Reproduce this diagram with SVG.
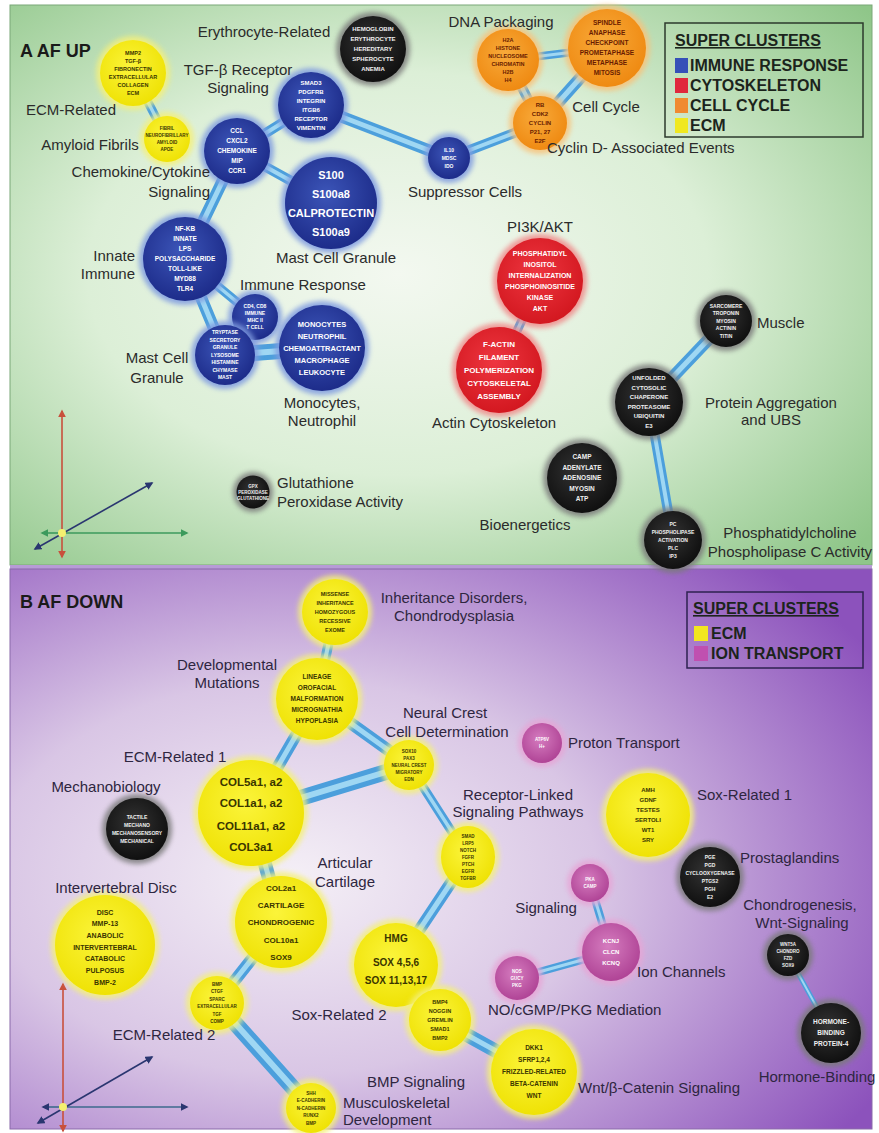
<svg xmlns="http://www.w3.org/2000/svg" width="879" height="1133" viewBox="0 0 879 1133">
<style>
.lb{font-family:"Liberation Sans",Arial,sans-serif;font-size:15px;fill:#2b2b2b}
.lbB{fill:#2e2640}
.mid{text-anchor:middle}.end{text-anchor:end}
.ttl{font-family:"Liberation Sans",Arial,sans-serif;font-size:18px;font-weight:bold;fill:#1a1a1a}
.lg{font-family:"Liberation Sans",Arial,sans-serif;font-size:16px;font-weight:bold;fill:#1c241c}
.lgt{text-decoration:underline}
.nt{font-family:"Liberation Sans",Arial,sans-serif;font-weight:bold;text-anchor:middle}
.halo{filter:url(#blur);opacity:.85}
.blu .halo{fill:#7f9be0}.blu .body{fill:url(#gBlu)}.blu text{fill:#ffffff}
.yel .halo{fill:#f4f07a}.yel .body{fill:url(#gYel)}.yel text{fill:#3a3500}
.org .halo{fill:#f8c27a}.org .body{fill:url(#gOrg)}.org text{fill:#6a1c00}
.red .halo{fill:#f08a8a}.red .body{fill:url(#gRed)}.red text{fill:#ffffff}
.blk .halo{fill:#7a7a7a}.blk .body{fill:url(#gBlk)}.blk text{fill:#f0f0f0}
.pnk .halo{fill:#e6a6d6}.pnk .body{fill:url(#gPnk)}.pnk text{fill:#ffffff}
.tube{stroke:#4c9fdc;stroke-linecap:round;fill:none}
.hi{stroke:#a9ddf5;stroke-linecap:round;fill:none;opacity:.9}
.ax{stroke-width:1.6;fill:none}
</style>
<defs>
<filter id="blur" x="-40%" y="-40%" width="180%" height="180%"><feGaussianBlur stdDeviation="2.5"/></filter>
<radialGradient id="bgA" cx="45%" cy="48%" r="72%"><stop offset="0" stop-color="#f3f8f0"/><stop offset="0.5" stop-color="#dcefd7"/><stop offset="1" stop-color="#8fc689"/></radialGradient>
<radialGradient id="bgB" cx="33%" cy="55%" r="78%"><stop offset="0" stop-color="#f4eff6"/><stop offset="0.45" stop-color="#d9c6e5"/><stop offset="1" stop-color="#8c52bc"/></radialGradient>
<radialGradient id="gBlu" cx="45%" cy="40%" r="60%"><stop offset="0" stop-color="#3c55b8"/><stop offset="1" stop-color="#1d2c8a"/></radialGradient>
<radialGradient id="gYel" cx="45%" cy="40%" r="60%"><stop offset="0" stop-color="#fbf43a"/><stop offset="1" stop-color="#efe205"/></radialGradient>
<radialGradient id="gOrg" cx="45%" cy="40%" r="60%"><stop offset="0" stop-color="#f8aa3a"/><stop offset="1" stop-color="#ef8a12"/></radialGradient>
<radialGradient id="gRed" cx="45%" cy="40%" r="60%"><stop offset="0" stop-color="#ee3640"/><stop offset="1" stop-color="#d31820"/></radialGradient>
<radialGradient id="gBlk" cx="45%" cy="40%" r="60%"><stop offset="0" stop-color="#333333"/><stop offset="1" stop-color="#101010"/></radialGradient>
<radialGradient id="gPnk" cx="45%" cy="40%" r="60%"><stop offset="0" stop-color="#d57cbf"/><stop offset="1" stop-color="#b04496"/></radialGradient>
<marker id="mR" viewBox="0 0 10 10" refX="8" refY="5" markerWidth="5" markerHeight="5" orient="auto-start-reverse"><path d="M0,0 L10,5 L0,10 z" fill="#c8503c"/></marker>
<marker id="mG" viewBox="0 0 10 10" refX="8" refY="5" markerWidth="5" markerHeight="5" orient="auto-start-reverse"><path d="M0,0 L10,5 L0,10 z" fill="#3c9a5c"/></marker>
<marker id="mK" viewBox="0 0 10 10" refX="8" refY="5" markerWidth="5" markerHeight="5" orient="auto-start-reverse"><path d="M0,0 L10,5 L0,10 z" fill="#2a3670"/></marker>
</defs>

<rect width="879" height="1133" fill="#ffffff"/>
<!-- panels -->
<rect x="10" y="5" width="862" height="560" fill="url(#bgA)" stroke="#7aa878" stroke-width="1"/>
<rect x="10" y="565" width="862" height="4" fill="#b79bd6"/>
<rect x="10" y="569" width="862" height="560" fill="url(#bgB)" stroke="#8a6aaa" stroke-width="1"/>

<text class="ttl" x="20" y="57">A  AF UP</text>
<text class="ttl" x="20" y="608">B  AF DOWN</text>

<!-- legend A -->
<g id="legendA">
<rect x="665" y="23" width="198" height="114" fill="none" stroke="#2c3a2c" stroke-width="1.5"/>
<text class="lg lgt" x="675" y="46">SUPER CLUSTERS</text>
<rect x="675" y="58" width="13" height="15" fill="#3550b8"/>
<text class="lg" x="690" y="71">IMMUNE RESPONSE</text>
<rect x="675" y="78" width="13" height="15" fill="#e0283c"/>
<text class="lg" x="690" y="91">CYTOSKELETON</text>
<rect x="675" y="98" width="13" height="15" fill="#f08a30"/>
<text class="lg" x="690" y="111">CELL CYCLE</text>
<rect x="675" y="118" width="13" height="15" fill="#f0e820"/>
<text class="lg" x="690" y="131">ECM</text>
</g>
<!-- legend B -->
<g id="legendB">
<rect x="687" y="592" width="176" height="76" fill="none" stroke="#2e2250" stroke-width="1.5"/>
<text class="lg lgt" x="693" y="614">SUPER CLUSTERS</text>
<rect x="694" y="626" width="14" height="15" fill="#f2e620"/>
<text class="lg" x="711" y="639">ECM</text>
<rect x="694" y="646" width="14" height="15" fill="#c050b0"/>
<text class="lg" x="711" y="659">ION TRANSPORT</text>
</g>

<!-- axes -->
<g id="axesA">
<line class="ax" x1="62" y1="557" x2="62" y2="411" stroke="#c8503c" marker-start="url(#mR)" marker-end="url(#mR)"/>
<line class="ax" x1="62" y1="533" x2="187" y2="533" stroke="#3c9a5c" marker-end="url(#mG)"/>
<line class="ax" x1="62" y1="533" x2="42" y2="533" stroke="#3c9a5c" marker-end="url(#mG)"/>
<line class="ax" x1="35" y1="549" x2="152" y2="483" stroke="#2a3670" marker-start="url(#mK)" marker-end="url(#mK)"/>
<circle cx="62" cy="533" r="4" fill="#f4f070"/>
</g>
<g id="axesB">
<line class="ax" x1="63" y1="1131" x2="63" y2="984" stroke="#c8503c" marker-start="url(#mR)" marker-end="url(#mR)"/>
<line class="ax" x1="63" y1="1107" x2="187" y2="1107" stroke="#3c6a8c" marker-end="url(#mK)"/>
<line class="ax" x1="63" y1="1107" x2="43" y2="1107" stroke="#3c6a8c" marker-end="url(#mK)"/>
<line class="ax" x1="38" y1="1123" x2="152" y2="1057" stroke="#2a3670" marker-start="url(#mK)" marker-end="url(#mK)"/>
<circle cx="63" cy="1107" r="4" fill="#f4f070"/>
</g>

<!-- connectors -->
<g id="connectors">
<line class="tube" x1="133" y1="73" x2="167" y2="139" stroke-width="9"/><line class="hi" x1="133" y1="73" x2="167" y2="139" stroke-width="3.5"/>
<line class="tube" x1="237" y1="151" x2="311" y2="105" stroke-width="10"/><line class="hi" x1="237" y1="151" x2="311" y2="105" stroke-width="4"/>
<line class="tube" x1="237" y1="151" x2="331" y2="203" stroke-width="10"/><line class="hi" x1="237" y1="151" x2="331" y2="203" stroke-width="4"/>
<line class="tube" x1="237" y1="151" x2="185" y2="259" stroke-width="12"/><line class="hi" x1="237" y1="151" x2="185" y2="259" stroke-width="5"/>
<line class="tube" x1="311" y1="105" x2="449" y2="158" stroke-width="12"/><line class="hi" x1="311" y1="105" x2="449" y2="158" stroke-width="5"/>
<line class="tube" x1="449" y1="158" x2="540" y2="123" stroke-width="10"/><line class="hi" x1="449" y1="158" x2="540" y2="123" stroke-width="4"/>
<line class="tube" x1="540" y1="123" x2="508" y2="60" stroke-width="10"/><line class="hi" x1="540" y1="123" x2="508" y2="60" stroke-width="4"/>
<line class="tube" x1="540" y1="123" x2="607" y2="48" stroke-width="12"/><line class="hi" x1="540" y1="123" x2="607" y2="48" stroke-width="5"/>
<line class="tube" x1="508" y1="60" x2="607" y2="48" stroke-width="8"/><line class="hi" x1="508" y1="60" x2="607" y2="48" stroke-width="3"/>
<line class="tube" x1="185" y1="259" x2="255" y2="317" stroke-width="9"/><line class="hi" x1="185" y1="259" x2="255" y2="317" stroke-width="3.5"/>
<line class="tube" x1="185" y1="259" x2="225" y2="355" stroke-width="12"/><line class="hi" x1="185" y1="259" x2="225" y2="355" stroke-width="5"/>
<line class="tube" x1="225" y1="355" x2="322" y2="348" stroke-width="16"/><line class="hi" x1="225" y1="355" x2="322" y2="348" stroke-width="6"/>
<line class="tube" x1="255" y1="317" x2="225" y2="355" stroke-width="8"/><line class="hi" x1="255" y1="317" x2="225" y2="355" stroke-width="3"/>
<line class="tube" x1="540" y1="281" x2="499" y2="370" stroke-width="9"/><line class="hi" x1="540" y1="281" x2="499" y2="370" stroke-width="3.5"/>
<line class="tube" x1="649" y1="402" x2="726" y2="321" stroke-width="12"/><line class="hi" x1="649" y1="402" x2="726" y2="321" stroke-width="5"/>
<line class="tube" x1="649" y1="402" x2="673" y2="540" stroke-width="10"/><line class="hi" x1="649" y1="402" x2="673" y2="540" stroke-width="4"/>

<line class="tube" x1="335" y1="612" x2="317" y2="699" stroke-width="10"/><line class="hi" x1="335" y1="612" x2="317" y2="699" stroke-width="4"/>
<line class="tube" x1="317" y1="699" x2="409" y2="765" stroke-width="12"/><line class="hi" x1="317" y1="699" x2="409" y2="765" stroke-width="5"/>
<line class="tube" x1="317" y1="699" x2="251" y2="813" stroke-width="12"/><line class="hi" x1="317" y1="699" x2="251" y2="813" stroke-width="5"/>
<line class="tube" x1="251" y1="813" x2="409" y2="765" stroke-width="16"/><line class="hi" x1="251" y1="813" x2="409" y2="765" stroke-width="6"/>
<line class="tube" x1="409" y1="765" x2="468" y2="857" stroke-width="9"/><line class="hi" x1="409" y1="765" x2="468" y2="857" stroke-width="3.5"/>
<line class="tube" x1="468" y1="857" x2="396" y2="965" stroke-width="12"/><line class="hi" x1="468" y1="857" x2="396" y2="965" stroke-width="5"/>
<line class="tube" x1="251" y1="813" x2="281" y2="922" stroke-width="14"/><line class="hi" x1="251" y1="813" x2="281" y2="922" stroke-width="5"/>
<line class="tube" x1="281" y1="922" x2="217" y2="1003" stroke-width="12"/><line class="hi" x1="281" y1="922" x2="217" y2="1003" stroke-width="5"/>
<line class="tube" x1="217" y1="1003" x2="311" y2="1108" stroke-width="16"/><line class="hi" x1="217" y1="1003" x2="311" y2="1108" stroke-width="6"/>
<line class="tube" x1="396" y1="965" x2="440" y2="1020" stroke-width="5"/><line class="hi" x1="396" y1="965" x2="440" y2="1020" stroke-width="2"/>
<line class="tube" x1="440" y1="1020" x2="534" y2="1072" stroke-width="14"/><line class="hi" x1="440" y1="1020" x2="534" y2="1072" stroke-width="5"/>
<line class="tube" x1="590" y1="883" x2="611" y2="952" stroke-width="8"/><line class="hi" x1="590" y1="883" x2="611" y2="952" stroke-width="3"/>
<line class="tube" x1="517" y1="978" x2="611" y2="952" stroke-width="8"/><line class="hi" x1="517" y1="978" x2="611" y2="952" stroke-width="3"/>
<line class="tube" x1="788" y1="955" x2="831" y2="1033" stroke-width="5"/><line class="hi" x1="788" y1="955" x2="831" y2="1033" stroke-width="2"/>
</g>

<!-- ===== Panel A nodes ===== -->
<g id="a-ecm" class="node yel"><circle class="halo" cx="133" cy="73" r="37"/><circle class="body" cx="133" cy="73" r="33"/>
<text class="nt" font-size="5.5" x="133" y="54.9"><tspan x="133">MMP2</tspan><tspan x="133" dy="8">TGF-β</tspan><tspan x="133" dy="8">FIBRONECTIN</tspan><tspan x="133" dy="8">EXTRACELLULAR</tspan><tspan x="133" dy="8">COLLAGEN</tspan><tspan x="133" dy="8">ECM</tspan></text></g>
<g id="a-amyloid" class="node yel"><circle class="halo" cx="167" cy="139" r="27"/><circle class="body" cx="167" cy="139" r="23"/>
<text class="nt" font-size="4.5" x="167" y="130.3"><tspan x="167">FIBRIL</tspan><tspan x="167" dy="7">NEUROFIBRILLARY</tspan><tspan x="167" dy="7">AMYLOID</tspan><tspan x="167" dy="7">APOE</tspan></text></g>
<g id="a-chemokine" class="node blu"><circle class="halo" cx="237" cy="151" r="37"/><circle class="body" cx="237" cy="151" r="33"/>
<text class="nt" font-size="6.5" x="237" y="133.3"><tspan x="237">CCL</tspan><tspan x="237" dy="10">CXCL2</tspan><tspan x="237" dy="10">CHEMOKINE</tspan><tspan x="237" dy="10">MIP</tspan><tspan x="237" dy="10">CCR1</tspan></text></g>
<g id="a-tgfb" class="node blu"><circle class="halo" cx="311" cy="105" r="37"/><circle class="body" cx="311" cy="105" r="33"/>
<text class="nt" font-size="6" x="311" y="84.6"><tspan x="311">SMAD3</tspan><tspan x="311" dy="9">PDGFRB</tspan><tspan x="311" dy="9">INTEGRIN</tspan><tspan x="311" dy="9">ITGB6</tspan><tspan x="311" dy="9">RECEPTOR</tspan><tspan x="311" dy="9">VIMENTIN</tspan></text></g>
<g id="a-erythro" class="node blk"><circle class="halo" cx="373" cy="49" r="37"/><circle class="body" cx="373" cy="49" r="33"/>
<text class="nt" font-size="6" x="373" y="31.1"><tspan x="373">HEMOGLOBIN</tspan><tspan x="373" dy="10">ERYTHROCYTE</tspan><tspan x="373" dy="10">HEREDITARY</tspan><tspan x="373" dy="10">SPHEROCYTE</tspan><tspan x="373" dy="10">ANEMIA</tspan></text></g>
<g id="a-s100" class="node blu"><circle class="halo" cx="331" cy="203" r="50"/><circle class="body" cx="331" cy="203" r="46"/>
<text class="nt" font-size="11" x="331" y="179"><tspan x="331">S100</tspan><tspan x="331" dy="18.5">S100a8</tspan><tspan x="331" dy="19.5">CALPROTECTIN</tspan><tspan x="331" dy="19">S100a9</tspan></text></g>
<g id="a-suppressor" class="node blu"><circle class="halo" cx="449" cy="158" r="25"/><circle class="body" cx="449" cy="158" r="21"/>
<text class="nt" font-size="5" x="449" y="151.7"><tspan x="449">IL10</tspan><tspan x="449" dy="8">MDSC</tspan><tspan x="449" dy="8">IDO</tspan></text></g>
<g id="a-dna" class="node org"><circle class="halo" cx="508" cy="60" r="35"/><circle class="body" cx="508" cy="60" r="31"/>
<text class="nt" font-size="5.5" x="508" y="41.9"><tspan x="508">H2A</tspan><tspan x="508" dy="8">HISTONE</tspan><tspan x="508" dy="8">NUCLEOSOME</tspan><tspan x="508" dy="8">CHROMATIN</tspan><tspan x="508" dy="8">H2B</tspan><tspan x="508" dy="8">H4</tspan></text></g>
<g id="a-cellcycle" class="node org"><circle class="halo" cx="607" cy="48" r="43"/><circle class="body" cx="607" cy="48" r="39"/>
<text class="nt" font-size="6.5" x="607" y="25.3"><tspan x="607">SPINDLE</tspan><tspan x="607" dy="10">ANAPHASE</tspan><tspan x="607" dy="10">CHECKPOINT</tspan><tspan x="607" dy="10">PROMETAPHASE</tspan><tspan x="607" dy="10">METAPHASE</tspan><tspan x="607" dy="10">MITOSIS</tspan></text></g>
<g id="a-cyclind" class="node org"><circle class="halo" cx="540" cy="123" r="31"/><circle class="body" cx="540" cy="123" r="27"/>
<text class="nt" font-size="6" x="540" y="107.1"><tspan x="540">RB</tspan><tspan x="540" dy="9">CDK2</tspan><tspan x="540" dy="9">CYCLIN</tspan><tspan x="540" dy="9">P21, 27</tspan><tspan x="540" dy="9">E2F</tspan></text></g>
<g id="a-innate" class="node blu"><circle class="halo" cx="185" cy="259" r="46"/><circle class="body" cx="185" cy="259" r="42"/>
<text class="nt" font-size="6.5" x="185" y="231.3"><tspan x="185">NF-KB</tspan><tspan x="185" dy="10">INNATE</tspan><tspan x="185" dy="10">LPS</tspan><tspan x="185" dy="10">POLYSACCHARIDE</tspan><tspan x="185" dy="10">TOLL-LIKE</tspan><tspan x="185" dy="10">MYD88</tspan><tspan x="185" dy="10">TLR4</tspan></text></g>
<g id="a-immresp" class="node blu"><circle class="halo" cx="255" cy="317" r="27"/><circle class="body" cx="255" cy="317" r="23"/>
<text class="nt" font-size="5" x="255" y="308.3"><tspan x="255">CD4, CD8</tspan><tspan x="255" dy="7">IMMUNE</tspan><tspan x="255" dy="7">MHC II</tspan><tspan x="255" dy="7">T CELL</tspan></text></g>
<g id="a-mastcell2" class="node blu"><circle class="halo" cx="225" cy="355" r="34"/><circle class="body" cx="225" cy="355" r="30"/>
<text class="nt" font-size="5" x="225" y="334.3"><tspan x="225">TRYPTASE</tspan><tspan x="225" dy="7.5">SECRETORY</tspan><tspan x="225" dy="7.5">GRANULE</tspan><tspan x="225" dy="7.5">LYSOSOME</tspan><tspan x="225" dy="7.5">HISTAMINE</tspan><tspan x="225" dy="7.5">CHYMASE</tspan><tspan x="225" dy="7.5">MAST</tspan></text></g>
<g id="a-monocytes" class="node blu"><circle class="halo" cx="322" cy="348" r="47"/><circle class="body" cx="322" cy="348" r="43"/>
<text class="nt" font-size="7.5" x="322" y="326.6"><tspan x="322">MONOCYTES</tspan><tspan x="322" dy="12">NEUTROPHIL</tspan><tspan x="322" dy="12">CHEMOATTRACTANT</tspan><tspan x="322" dy="12">MACROPHAGE</tspan><tspan x="322" dy="12">LEUKOCYTE</tspan></text></g>
<g id="a-pi3k" class="node red"><circle class="halo" cx="540" cy="281" r="47"/><circle class="body" cx="540" cy="281" r="43"/>
<text class="nt" font-size="7" x="540" y="256"><tspan x="540">PHOSPHATIDYL</tspan><tspan x="540" dy="11">INOSITOL</tspan><tspan x="540" dy="11">INTERNALIZATION</tspan><tspan x="540" dy="11">PHOSPHOINOSITIDE</tspan><tspan x="540" dy="11">KINASE</tspan><tspan x="540" dy="11">AKT</tspan></text></g>
<g id="a-actin" class="node red"><circle class="halo" cx="499" cy="370" r="47"/><circle class="body" cx="499" cy="370" r="43"/>
<text class="nt" font-size="8" x="499" y="346.8"><tspan x="499">F-ACTIN</tspan><tspan x="499" dy="13">FILAMENT</tspan><tspan x="499" dy="13">POLYMERIZATION</tspan><tspan x="499" dy="13">CYTOSKELETAL</tspan><tspan x="499" dy="13">ASSEMBLY</tspan></text></g>
<g id="a-glutathione" class="node blk"><circle class="halo" cx="253" cy="492" r="20"/><circle class="body" cx="253" cy="492" r="16.5"/>
<text class="nt" font-size="4.5" x="253" y="487.6"><tspan x="253">GPX</tspan><tspan x="253" dy="6">PEROXIDASE</tspan><tspan x="253" dy="6">GLUTATHIONE</tspan></text></g>
<g id="a-muscle" class="node blk"><circle class="halo" cx="726" cy="321" r="30"/><circle class="body" cx="726" cy="321" r="26"/>
<text class="nt" font-size="5" x="726" y="307.8"><tspan x="726">SARCOMERE</tspan><tspan x="726" dy="7.5">TROPONIN</tspan><tspan x="726" dy="7.5">MYOSIN</tspan><tspan x="726" dy="7.5">ACTININ</tspan><tspan x="726" dy="7.5">TITIN</tspan></text></g>
<g id="a-protagg" class="node blk"><circle class="halo" cx="649" cy="402" r="38"/><circle class="body" cx="649" cy="402" r="34"/>
<text class="nt" font-size="6" x="649" y="380.4"><tspan x="649">UNFOLDED</tspan><tspan x="649" dy="9.5">CYTOSOLIC</tspan><tspan x="649" dy="9.5">CHAPERONE</tspan><tspan x="649" dy="9.5">PROTEASOME</tspan><tspan x="649" dy="9.5">UBIQUITIN</tspan><tspan x="649" dy="9.5">E3</tspan></text></g>
<g id="a-bioenergetics" class="node blk"><circle class="halo" cx="582" cy="478" r="39"/><circle class="body" cx="582" cy="478" r="35"/>
<text class="nt" font-size="6.5" x="582" y="459.3"><tspan x="582">CAMP</tspan><tspan x="582" dy="10.5">ADENYLATE</tspan><tspan x="582" dy="10.5">ADENOSINE</tspan><tspan x="582" dy="10.5">MYOSIN</tspan><tspan x="582" dy="10.5">ATP</tspan></text></g>
<g id="a-phospho" class="node blk"><circle class="halo" cx="673" cy="540" r="33"/><circle class="body" cx="673" cy="540" r="29"/>
<text class="nt" font-size="5" x="673" y="525.8"><tspan x="673">PC</tspan><tspan x="673" dy="8">PHOSPHOLIPASE</tspan><tspan x="673" dy="8">ACTIVATION</tspan><tspan x="673" dy="8">PLC</tspan><tspan x="673" dy="8">IP3</tspan></text></g>

<!-- Panel A labels -->
<g id="labelsA">
<text class="lb mid" x="264" y="37">Erythrocyte-Related</text>
<text class="lb mid" x="238" y="75">TGF-β Receptor</text>
<text class="lb mid" x="238" y="93">Signaling</text>
<text class="lb mid" x="71" y="115">ECM-Related</text>
<text class="lb mid" x="90" y="150">Amyloid Fibrils</text>
<text class="lb end" x="210" y="177">Chemokine/Cytokine</text>
<text class="lb end" x="210" y="197">Signaling</text>
<text class="lb mid" x="501" y="27">DNA Packaging</text>
<text class="lb mid" x="606" y="112">Cell Cycle</text>
<text class="lb" x="547" y="153">Cyclin D- Associated Events</text>
<text class="lb mid" x="465" y="197">Suppressor Cells</text>
<text class="lb mid" x="336" y="263">Mast Cell Granule</text>
<text class="lb mid" x="303" y="290">Immune Response</text>
<text class="lb end" x="135" y="261">Innate</text>
<text class="lb end" x="135" y="279">Immune</text>
<text class="lb mid" x="157" y="363">Mast Cell</text>
<text class="lb mid" x="157" y="383">Granule</text>
<text class="lb mid" x="322" y="408">Monocytes,</text>
<text class="lb mid" x="322" y="426">Neutrophil</text>
<text class="lb mid" x="540" y="232">PI3K/AKT</text>
<text class="lb mid" x="494" y="428">Actin Cytoskeleton</text>
<text class="lb" x="277" y="488">Glutathione</text>
<text class="lb" x="277" y="507">Peroxidase Activity</text>
<text class="lb" x="757" y="328">Muscle</text>
<text class="lb mid" x="771" y="408">Protein Aggregation</text>
<text class="lb mid" x="771" y="425">and UBS</text>
<text class="lb mid" x="525" y="530">Bioenergetics</text>
<text class="lb mid" x="790" y="538">Phosphatidylcholine</text>
<text class="lb mid" x="790" y="557">Phospholipase C Activity</text>
</g>

<!-- ===== Panel B nodes ===== -->
<g id="b-inherit" class="node yel"><circle class="halo" cx="335" cy="612" r="37"/><circle class="body" cx="335" cy="612" r="33"/>
<text class="nt" font-size="5.5" x="335" y="595.9"><tspan x="335">MISSENSE</tspan><tspan x="335" dy="9">INHERITANCE</tspan><tspan x="335" dy="9">HOMOZYGOUS</tspan><tspan x="335" dy="9">RECESSIVE</tspan><tspan x="335" dy="9">EXOME</tspan></text></g>
<g id="b-develop" class="node yel"><circle class="halo" cx="317" cy="699" r="45"/><circle class="body" cx="317" cy="699" r="41"/>
<text class="nt" font-size="6.5" x="317" y="679.3"><tspan x="317">LINEAGE</tspan><tspan x="317" dy="11">OROFACIAL</tspan><tspan x="317" dy="11">MALFORMATION</tspan><tspan x="317" dy="11">MICROGNATHIA</tspan><tspan x="317" dy="11">HYPOPLASIA</tspan></text></g>
<g id="b-neural" class="node yel"><circle class="halo" cx="409" cy="765" r="29"/><circle class="body" cx="409" cy="765" r="25"/>
<text class="nt" font-size="4.5" x="409" y="752.6"><tspan x="409">SOX10</tspan><tspan x="409" dy="7">PAX3</tspan><tspan x="409" dy="7">NEURAL CREST</tspan><tspan x="409" dy="7">MIGRATORY</tspan><tspan x="409" dy="7">EDN</tspan></text></g>
<g id="b-ecm1" class="node yel"><circle class="halo" cx="251" cy="813" r="57"/><circle class="body" cx="251" cy="813" r="53"/>
<text class="nt" font-size="11.5" x="251" y="786"><tspan x="251">COL5a1, a2</tspan><tspan x="251" dy="21">COL1a1, a2</tspan><tspan x="251" dy="23">COL11a1, a2</tspan><tspan x="251" dy="21">COL3a1</tspan></text></g>
<g id="b-receptor" class="node yel"><ellipse class="halo" cx="468" cy="857" rx="31" ry="35"/><ellipse class="body" cx="468" cy="857" rx="27" ry="31"/>
<text class="nt" font-size="4.5" x="468" y="837.6"><tspan x="468">SMAD</tspan><tspan x="468" dy="7">LRP5</tspan><tspan x="468" dy="7">NOTCH</tspan><tspan x="468" dy="7">FGFR</tspan><tspan x="468" dy="7">PTCH</tspan><tspan x="468" dy="7">EGFR</tspan><tspan x="468" dy="7">TGFBR</tspan></text></g>
<g id="b-articular" class="node yel"><circle class="halo" cx="281" cy="922" r="50"/><circle class="body" cx="281" cy="922" r="46"/>
<text class="nt" font-size="8" x="281" y="890.8"><tspan x="281">COL2a1</tspan><tspan x="281" dy="17.3">CARTILAGE</tspan><tspan x="281" dy="17.3">CHONDROGENIC</tspan><tspan x="281" dy="17.3">COL10a1</tspan><tspan x="281" dy="17.3">SOX9</tspan></text></g>
<g id="b-hmg" class="node yel"><circle class="halo" cx="396" cy="965" r="46"/><circle class="body" cx="396" cy="965" r="42"/>
<text class="nt" font-size="10" x="396" y="942"><tspan x="396">HMG</tspan><tspan x="396" dy="24">SOX 4,5,6</tspan><tspan x="396" dy="18">SOX 11,13,17</tspan></text></g>
<g id="b-bmp" class="node yel"><circle class="halo" cx="440" cy="1020" r="35"/><circle class="body" cx="440" cy="1020" r="31"/>
<text class="nt" font-size="5.5" x="440" y="1003.9"><tspan x="440">BMP4</tspan><tspan x="440" dy="9">NOGGIN</tspan><tspan x="440" dy="9">GREMLIN</tspan><tspan x="440" dy="9">SMAD1</tspan><tspan x="440" dy="9">BMP2</tspan></text></g>
<g id="b-wnt" class="node yel"><circle class="halo" cx="534" cy="1072" r="47"/><circle class="body" cx="534" cy="1072" r="43"/>
<text class="nt" font-size="6.5" x="534" y="1050.3"><tspan x="534">DKK1</tspan><tspan x="534" dy="12">SFRP1,2,4</tspan><tspan x="534" dy="12">FRIZZLED-RELATED</tspan><tspan x="534" dy="12">BETA-CATENIN</tspan><tspan x="534" dy="12">WNT</tspan></text></g>
<g id="b-signaling" class="node pnk"><circle class="halo" cx="590" cy="883" r="23"/><circle class="body" cx="590" cy="883" r="19"/>
<text class="nt" font-size="4.5" x="590" y="881.1"><tspan x="590">PKA</tspan><tspan x="590" dy="7">CAMP</tspan></text></g>
<g id="b-ion" class="node pnk"><circle class="halo" cx="611" cy="952" r="33"/><circle class="body" cx="611" cy="952" r="29"/>
<text class="nt" font-size="6" x="611" y="943.1"><tspan x="611">KCNJ</tspan><tspan x="611" dy="11">CLCN</tspan><tspan x="611" dy="11">KCNQ</tspan></text></g>
<g id="b-no" class="node pnk"><circle class="halo" cx="517" cy="978" r="26"/><circle class="body" cx="517" cy="978" r="22"/>
<text class="nt" font-size="4.5" x="517" y="972.6"><tspan x="517">NOS</tspan><tspan x="517" dy="7">GUCY</tspan><tspan x="517" dy="7">PKG</tspan></text></g>
<g id="b-proton" class="node pnk"><circle class="halo" cx="542" cy="743" r="24"/><circle class="body" cx="542" cy="743" r="20"/>
<text class="nt" font-size="4.5" x="542" y="741.1"><tspan x="542">ATP6V</tspan><tspan x="542" dy="7">H+</tspan></text></g>
<g id="b-sox1" class="node yel"><circle class="halo" cx="648" cy="815" r="46"/><circle class="body" cx="648" cy="815" r="42"/>
<text class="nt" font-size="6" x="648" y="792.1"><tspan x="648">AMH</tspan><tspan x="648" dy="10">GDNF</tspan><tspan x="648" dy="10">TESTES</tspan><tspan x="648" dy="10">SERTOLI</tspan><tspan x="648" dy="10">WT1</tspan><tspan x="648" dy="10">SRY</tspan></text></g>
<g id="b-prost" class="node blk"><circle class="halo" cx="710" cy="877" r="34"/><circle class="body" cx="710" cy="877" r="30"/>
<text class="nt" font-size="5" x="710" y="858.8"><tspan x="710">PGE</tspan><tspan x="710" dy="8">PGD</tspan><tspan x="710" dy="8">CYCLOOXYGENASE</tspan><tspan x="710" dy="8">PTGS2</tspan><tspan x="710" dy="8">PGH</tspan><tspan x="710" dy="8">E2</tspan></text></g>
<g id="b-mechano" class="node blk"><circle class="halo" cx="137" cy="829" r="35"/><circle class="body" cx="137" cy="829" r="31"/>
<text class="nt" font-size="5" x="137" y="818.8"><tspan x="137">TACTILE</tspan><tspan x="137" dy="8">MECHANO</tspan><tspan x="137" dy="8">MECHANOSENSORY</tspan><tspan x="137" dy="8">MECHANICAL</tspan></text></g>
<g id="b-ivd" class="node yel"><circle class="halo" cx="105" cy="945" r="54"/><circle class="body" cx="105" cy="945" r="50"/>
<text class="nt" font-size="7" x="105" y="914.5"><tspan x="105">DISC</tspan><tspan x="105" dy="11.7">MMP-13</tspan><tspan x="105" dy="11.7">ANABOLIC</tspan><tspan x="105" dy="11.7">INTERVERTEBRAL</tspan><tspan x="105" dy="11.7">CATABOLIC</tspan><tspan x="105" dy="11.7">PULPOSUS</tspan><tspan x="105" dy="11.7">BMP-2</tspan></text></g>
<g id="b-ecm2" class="node yel"><circle class="halo" cx="217" cy="1003" r="31"/><circle class="body" cx="217" cy="1003" r="27"/>
<text class="nt" font-size="4.5" x="217" y="985.9"><tspan x="217">BMP</tspan><tspan x="217" dy="7.5">CTGF</tspan><tspan x="217" dy="7.5">SPARC</tspan><tspan x="217" dy="7.5">EXTRACELLULAR</tspan><tspan x="217" dy="7.5">TGF</tspan><tspan x="217" dy="7.5">COMP</tspan></text></g>
<g id="b-chondro" class="node blk"><circle class="halo" cx="788" cy="955" r="25"/><circle class="body" cx="788" cy="955" r="21"/>
<text class="nt" font-size="4.5" x="788" y="946.1"><tspan x="788">WNT5A</tspan><tspan x="788" dy="7">CHONDRO</tspan><tspan x="788" dy="7">FZD</tspan><tspan x="788" dy="7">SOX9</tspan></text></g>
<g id="b-hormone" class="node blk"><circle class="halo" cx="831" cy="1033" r="34"/><circle class="body" cx="831" cy="1033" r="30"/>
<text class="nt" font-size="6.5" x="831" y="1024.3"><tspan x="831">HORMONE-</tspan><tspan x="831" dy="11">BINDING</tspan><tspan x="831" dy="11">PROTEIN-4</tspan></text></g>
<g id="b-musculo" class="node yel"><circle class="halo" cx="311" cy="1108" r="29"/><circle class="body" cx="311" cy="1108" r="25"/>
<text class="nt" font-size="4.5" x="311" y="1094.6"><tspan x="311">SHH</tspan><tspan x="311" dy="7.5">E-CADHERIN</tspan><tspan x="311" dy="7.5">N-CADHERIN</tspan><tspan x="311" dy="7.5">RUNX2</tspan><tspan x="311" dy="7.5">BMP</tspan></text></g>

<!-- Panel B labels -->
<g id="labelsB">
<text class="lb lbB mid" x="454" y="603">Inheritance Disorders,</text>
<text class="lb lbB mid" x="454" y="621">Chondrodysplasia</text>
<text class="lb lbB mid" x="227" y="670">Developmental</text>
<text class="lb lbB mid" x="227" y="688">Mutations</text>
<text class="lb lbB mid" x="175" y="762">ECM-Related 1</text>
<text class="lb lbB mid" x="445" y="718">Neural Crest</text>
<text class="lb lbB mid" x="447" y="737">Cell Determination</text>
<text class="lb lbB" x="568" y="748">Proton Transport</text>
<text class="lb lbB mid" x="518" y="800">Receptor-Linked</text>
<text class="lb lbB mid" x="518" y="817">Signaling Pathways</text>
<text class="lb lbB" x="697" y="800">Sox-Related 1</text>
<text class="lb lbB mid" x="106" y="792">Mechanobiology</text>
<text class="lb lbB mid" x="345" y="868">Articular</text>
<text class="lb lbB mid" x="345" y="887">Cartilage</text>
<text class="lb lbB mid" x="116" y="893">Intervertebral Disc</text>
<text class="lb lbB" x="740" y="863">Prostaglandins</text>
<text class="lb lbB mid" x="800" y="910">Chondrogenesis,</text>
<text class="lb lbB mid" x="802" y="928">Wnt-Signaling</text>
<text class="lb lbB mid" x="546" y="913">Signaling</text>
<text class="lb lbB" x="637" y="977">Ion Channels</text>
<text class="lb lbB" x="488" y="1015">NO/cGMP/PKG Mediation</text>
<text class="lb lbB mid" x="339" y="1020">Sox-Related 2</text>
<text class="lb lbB mid" x="164" y="1040">ECM-Related 2</text>
<text class="lb lbB mid" x="416" y="1087">BMP Signaling</text>
<text class="lb lbB" x="578" y="1093">Wnt/β-Catenin Signaling</text>
<text class="lb lbB mid" x="817" y="1082">Hormone-Binding</text>
<text class="lb lbB" x="343" y="1108">Musculoskeletal</text>
<text class="lb lbB" x="343" y="1125">Development</text>
</g>
</svg>
